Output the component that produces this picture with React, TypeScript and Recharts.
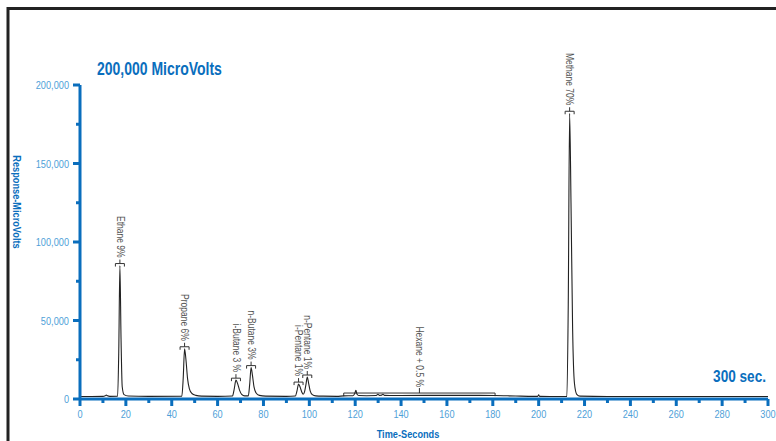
import React from 'react';
import { ComposedChart, Line, Scatter, XAxis, YAxis, ReferenceArea } from 'recharts';

// ---- data ----
const timeSec = [
  0, 5, 10, 11, 11.5, 12, 13, 16.4, 16.9, 17.4, 17.9, 18.4, 19.2, 21, 30,
  44.4, 45.0, 45.6, 46.2, 46.9, 47.7, 48.8, 50.5, 53, 60,
  66.5, 67.2, 68.0, 68.8, 69.6, 70.5, 71.8, 73.4, 74.0, 74.6, 75.2, 75.9, 76.8, 78.2, 81, 90,
  93.9, 94.6, 95.3, 96.0, 96.7, 97.3, 97.9, 98.5, 99.1, 99.7, 100.4, 101.3, 102.8, 106, 112,
  115, 119, 119.8, 120.3, 120.8, 121.5, 125, 129.2, 129.9, 130.6, 131.4, 132.1, 132.8, 135,
  150, 170, 181, 190, 198, 199.6, 200, 200.4, 205,
  212.3, 212.9, 213.5, 214.1, 214.8, 215.6, 216.6, 218, 230, 260, 300,
];
const responseMicroVolts = [
  1600, 1600, 1700, 2100, 2500, 2000, 1700, 1800, 30000, 85000, 38000, 8000, 2800, 1900, 1700,
  1800, 13000, 32000, 25000, 13000, 6500, 3500, 2300, 1800, 1700,
  1900, 6000, 12000, 9500, 5500, 3000, 2000, 2000, 9500, 20000, 15000, 7500, 3800, 2300, 1800, 1700,
  1900, 5000, 9500, 7500, 4500, 3000, 4500, 9000, 14000, 10000, 5000, 2800, 2000, 1800, 1700,
  2000, 2100, 3500, 5500, 3000, 2200, 2100, 2200, 3000, 2300, 2400, 3000, 2300, 2200,
  2300, 2300, 2200, 1900, 1700, 1700, 2600, 1700, 1600,
  1700, 60000, 182000, 125000, 45000, 10000, 3000, 1800, 1600, 1600, 1600,
];

const peakNames = ['Ethane 9%', 'Propane 6%', 'i-Butane 3 %', 'n-Butane 3%', 'i-Pentane 1%', 'n-Pentane 1%', 'Methane 70%'];
const peakTimes = [17.4, 45.6, 68.0, 74.6, 95.3, 99.1, 213.5];
const peakHeights = [85000, 32000, 12000, 20000, 9500, 14000, 182000];

const hexaneName = 'Hexane + 0.5 %';
const hexaneStart = 115;
const hexaneEnd = 181;
const hexaneLevel = 3800;

const xTicks = [0, 10, 20, 30, 40, 50, 60, 70, 80, 90, 100, 110, 120, 130, 140, 150, 160, 170, 180, 190, 200, 210, 220, 230, 240, 250, 260, 270, 280, 290, 300];
const yTicks = [0, 25000, 50000, 75000, 100000, 125000, 150000, 175000, 200000];

const traceData = timeSec.map((t, i) => ({ t, v: responseMicroVolts[i] }));
const peakData = peakNames.map((name, i) => ({ t: peakTimes[i], v: peakHeights[i], name }));

// ---- styles ----
const AXIS_BLUE = '#0a6ebd';
const TICK_BLUE = '#4f9fd8';
const FONT = "'Liberation Sans', Arial, sans-serif";
const NARROW = 0.8;

const fmt = (n: number) => n.toLocaleString('en-US');

// condensed text: Liberation Sans squeezed horizontally (along its own reading direction)
function NText(props: any) {
  const { x, y, rotate = 0, sx = NARROW, children, ...rest } = props;
  return (
    <text
      transform={`translate(${x},${y}) rotate(${rotate}) scale(${sx},1)`}
      x={0}
      y={0}
      fontFamily={FONT}
      {...rest}
    >
      {children}
    </text>
  );
}

function XTick(props: any) {
  const { x, y, payload } = props;
  const v = payload.value as number;
  const major = v % 20 === 0;
  return (
    <g>
      <line x1={x} x2={x} y1={y} y2={y + (major ? 7 : 4)} stroke={AXIS_BLUE} strokeWidth={3} />
      {major && (
        <NText x={x} y={y + 19} textAnchor="middle" fontSize={11.5} fill={TICK_BLUE}>
          {v}
        </NText>
      )}
    </g>
  );
}

function YTick(props: any) {
  const { x, y, payload } = props;
  const v = payload.value as number;
  const major = v % 50000 === 0;
  return (
    <g>
      <line x1={x - (major ? 7 : 4)} x2={x} y1={y} y2={y} stroke={AXIS_BLUE} strokeWidth={3} />
      {major && (
        <NText x={x - 11} y={y + 4} textAnchor="end" fontSize={11.5} fill={TICK_BLUE}>
          {fmt(v)}
        </NText>
      )}
    </g>
  );
}

function PeakMarker(props: any) {
  const { cx, cy, payload } = props;
  if (cx == null || cy == null) return <g />;
  const w = 4.5;
  const by = cy - 2;
  return (
    <g>
      <path
        d={`M${cx - w},${by + 3} L${cx - w},${by} L${cx + w},${by} L${cx + w},${by + 3}`}
        fill="none"
        stroke="#333"
        strokeWidth={1}
      />
      <line x1={cx} x2={cx} y1={by} y2={by - 4} stroke="#333" strokeWidth={1} />
      <NText x={cx} y={by - 6} rotate={90} sx={0.85} textAnchor="end" dy="0.33em" fontSize={10} fill="#555">
        {payload.name}
      </NText>
    </g>
  );
}

function HexaneBracket(props: any) {
  const { x, y, width, height } = props;
  if (x == null || y == null) return <g />;
  const mx = x + width / 2;
  return (
    <g>
      <path
        d={`M${x},${y + height} L${x},${y} L${x + width},${y} L${x + width},${y + height}`}
        fill="none"
        stroke="#333"
        strokeWidth={1}
      />
      <line x1={mx} x2={mx} y1={y} y2={y - 5} stroke="#333" strokeWidth={1} />
      <NText x={mx} y={y - 6} rotate={90} sx={0.85} textAnchor="end" dy="0.33em" fontSize={10} fill="#555">
        {hexaneName}
      </NText>
    </g>
  );
}

export default function App() {
  return (
    <div style={{ position: 'absolute', left: 0, top: 0, width: 776, height: 441, background: '#fff', overflow: 'hidden' }}>
      <svg width={776} height={441} style={{ position: 'absolute', left: 0, top: 0 }}>
        <path d="M8,441 L8,8.5 L776,8.5" fill="none" stroke="#222" strokeWidth={3} />
        <NText x={97} y={75} fontWeight="bold" fontSize={17.5} fill={AXIS_BLUE}>
          200,000 MicroVolts
        </NText>
        <NText x={766} y={382} textAnchor="end" fontWeight="bold" fontSize={17} fill={AXIS_BLUE}>
          300 sec.
        </NText>
        <NText x={17} y={202} rotate={90} textAnchor="middle" dy="0.35em" fontWeight="bold" fontSize={11.5} fill={AXIS_BLUE}>
          Response-MicroVolts
        </NText>
        <NText x={408} y={438} textAnchor="middle" fontWeight="bold" fontSize={11.5} fill={AXIS_BLUE}>
          Time-Seconds
        </NText>
      </svg>
      <div style={{ position: 'absolute', left: 0, top: 0 }}>
        <ComposedChart width={776} height={441} margin={{ top: 85, right: 8, bottom: 0, left: 0 }}>
          <XAxis
            dataKey="t"
            type="number"
            domain={[0, 300]}
            ticks={xTicks}
            interval={0}
            tickLine={false}
            tickSize={0}
            tickMargin={0}
            height={42}
            axisLine={{ stroke: AXIS_BLUE, strokeWidth: 3 }}
            tick={<XTick />}
          />
          <YAxis
            dataKey="v"
            type="number"
            domain={[0, 200000]}
            ticks={yTicks}
            interval={0}
            tickLine={false}
            tickSize={0}
            tickMargin={0}
            width={80}
            axisLine={{ stroke: AXIS_BLUE, strokeWidth: 3 }}
            tick={<YTick />}
          />
          <ReferenceArea
            x1={hexaneStart}
            x2={hexaneEnd}
            y1={1800}
            y2={hexaneLevel}
            shape={(p: any) => <HexaneBracket {...p} />}
          />
          <Line
            data={traceData}
            dataKey="v"
            type="monotone"
            stroke="#222"
            strokeWidth={1.1}
            dot={false}
            activeDot={false}
            isAnimationActive={false}
          />
          <Scatter
            data={peakData}
            dataKey="v"
            shape={(p: any) => <PeakMarker {...p} />}
            isAnimationActive={false}
          />
        </ComposedChart>
      </div>
    </div>
  );
}
